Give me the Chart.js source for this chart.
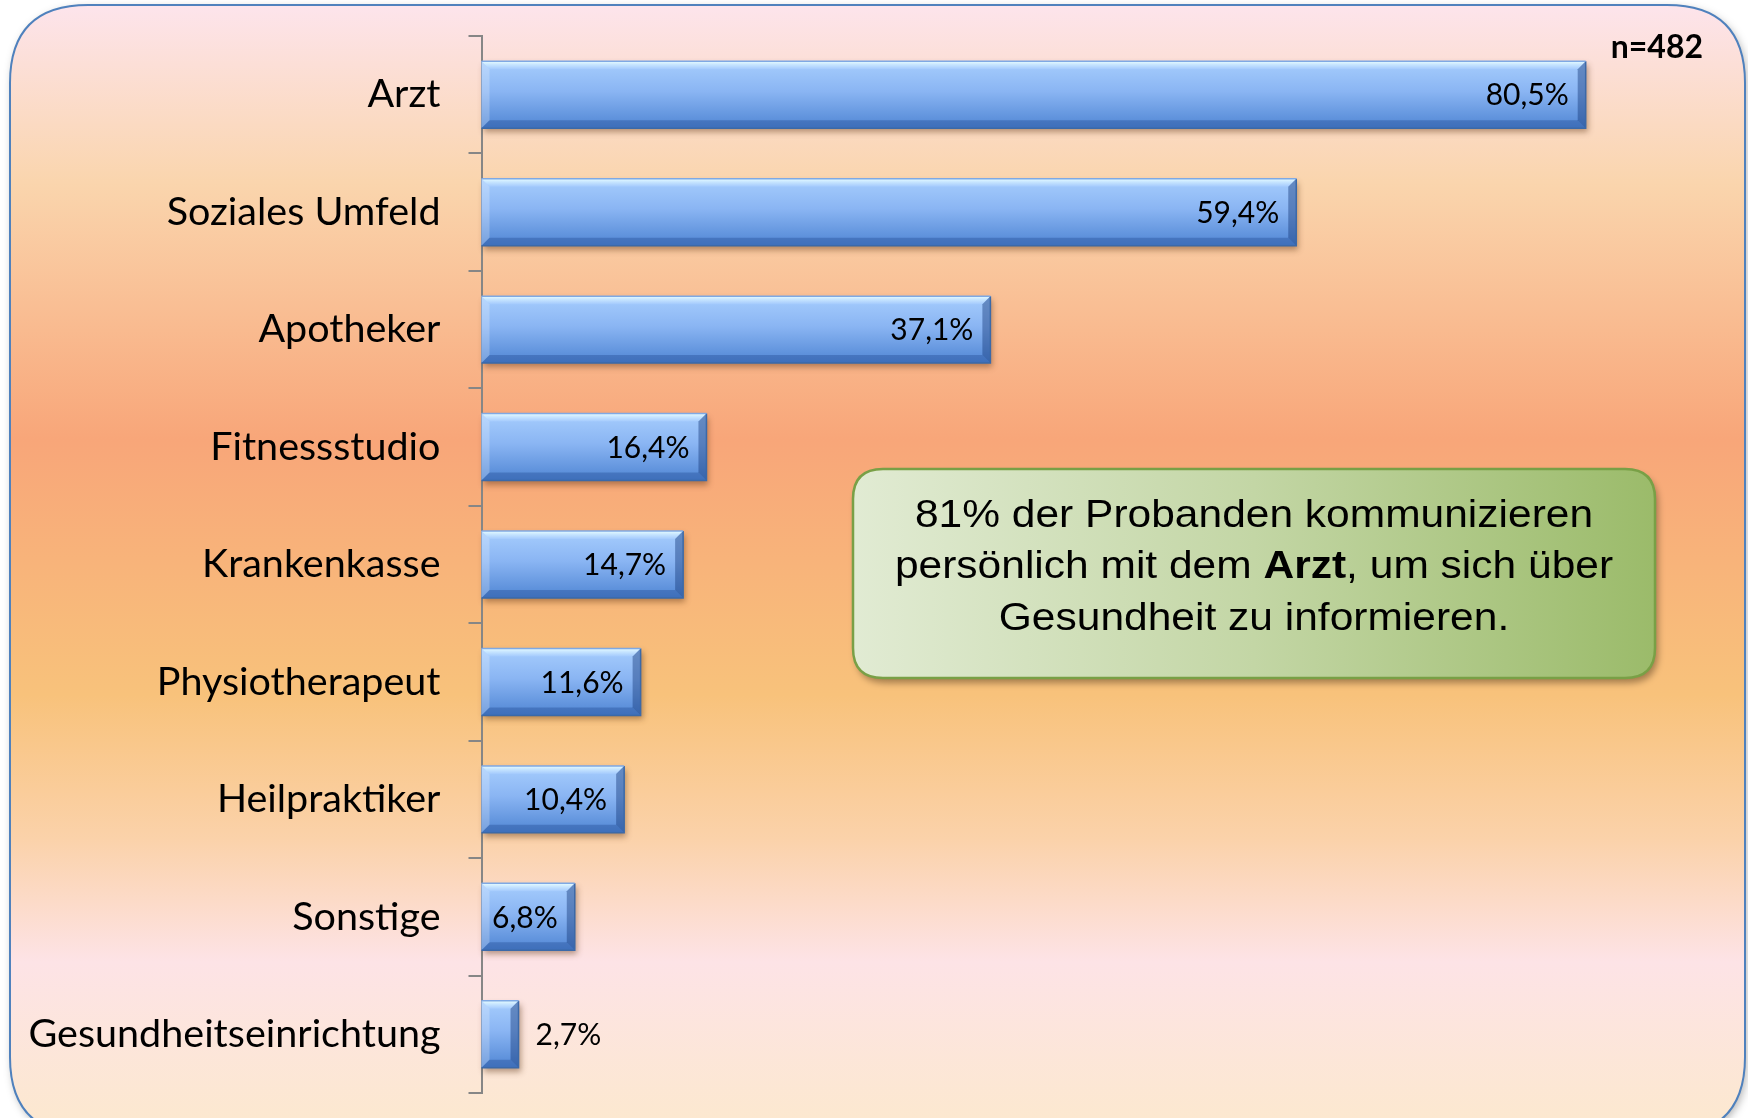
<!DOCTYPE html>
<html>
<head>
<meta charset="utf-8">
<script src="https://cdn.jsdelivr.net/npm/chart.js@4.4.0/dist/chart.umd.min.js"></script>
<style>
html,body{margin:0;padding:0;background:#fff;}
#wrap{width:1748px;height:1118px;position:relative;}
</style>
</head>
<body>
<div id="wrap"><canvas id="mycanvas"></canvas></div>
<script>
// data
var categories = ['Arzt','Soziales Umfeld','Apotheker','Fitnessstudio','Krankenkasse','Physiotherapeut','Heilpraktiker','Sonstige','Gesundheitseinrichtung'];
var values = [80.5,59.4,37.1,16.4,14.7,11.6,10.4,6.8,2.7];
var sampleNote = 'n=482';
var calloutLines = [
	[['81% der Probanden kommunizieren', false]],
	[['persönlich mit dem ', false], ['Arzt', true], [', um sich über', false]],
	[['Gesundheit zu informieren.', false]]
];

function roundRect(ctx, x, y, w, h, r){
	ctx.beginPath();
	ctx.moveTo(x+r, y);
	ctx.lineTo(x+w-r, y);
	ctx.quadraticCurveTo(x+w, y, x+w, y+r);
	ctx.lineTo(x+w, y+h-r);
	ctx.quadraticCurveTo(x+w, y+h, x+w-r, y+h);
	ctx.lineTo(x+r, y+h);
	ctx.quadraticCurveTo(x, y+h, x, y+h-r);
	ctx.lineTo(x, y+r);
	ctx.quadraticCurveTo(x, y, x+r, y);
	ctx.closePath();
}
function poly(ctx, pts, fill){
	ctx.beginPath();
	ctx.moveTo(pts[0][0], pts[0][1]);
	for(var i=1;i<pts.length;i++) ctx.lineTo(pts[i][0], pts[i][1]);
	ctx.closePath();
	ctx.fillStyle = fill;
	ctx.fill();
}
function barRect(el){
	var p = el.getProps(['x','y','base','height'], true);
	return {l:p.base, r:p.x, t:p.y-p.height/2, b:p.y+p.height/2, y:p.y};
}

var background = {
	id:'background',
	beforeDraw:function(chart){
		var ctx = chart.ctx;
		ctx.save();
		ctx.fillStyle = '#fff';
		ctx.fillRect(0,0,chart.width,chart.height);
		var g = ctx.createLinearGradient(0,5,0,1118);
		g.addColorStop(0,'#fde4ec');
		g.addColorStop(0.16,'#fad5ad');
		g.addColorStop(0.39,'#f8a679');
		g.addColorStop(0.62,'#f8c27b');
		g.addColorStop(0.75,'#fbd2aa');
		g.addColorStop(0.86,'#fde3e6');
		g.addColorStop(1,'#fce8d0');
		ctx.shadowColor = 'rgba(0,0,0,0.3)';
		ctx.shadowBlur = 8;
		ctx.shadowOffsetX = 2;
		ctx.shadowOffsetY = 3;
		roundRect(ctx,10,5,1735,1130,78);
		ctx.fillStyle = g;
		ctx.fill();
		ctx.shadowColor = 'transparent';
		ctx.lineWidth = 2;
		ctx.strokeStyle = '#4f81bd';
		ctx.stroke();
		ctx.restore();
	},
	beforeDatasetsDraw:function(chart){
		var ctx = chart.ctx;
		ctx.save();
		ctx.shadowColor = 'rgba(90,50,20,0.45)';
		ctx.shadowBlur = 6;
		ctx.shadowOffsetX = 2;
		ctx.shadowOffsetY = 4;
		ctx.fillStyle = '#6f9de0';
		chart.getDatasetMeta(0).data.forEach(function(el){
			var b = barRect(el);
			ctx.fillRect(b.l, b.t, b.r-b.l, b.b-b.t);
		});
		ctx.restore();
	},
	afterDatasetsDraw:function(chart){
		var ctx = chart.ctx;
		ctx.save();
		chart.getDatasetMeta(0).data.forEach(function(el, i){
			var b = barRect(el), d = 8;
			var tg = ctx.createLinearGradient(0,b.t,0,b.t+d);
			tg.addColorStop(0,'#e6fcff');
			tg.addColorStop(0.4,'#c8e6ff');
			tg.addColorStop(1,'#a4cafd');
			poly(ctx,[[b.l,b.t],[b.r,b.t],[b.r-d,b.t+d],[b.l+d,b.t+d]],tg);
			poly(ctx,[[b.l,b.t],[b.l+d,b.t+d],[b.l+d,b.b-d],[b.l,b.b]],'rgba(255,255,255,0.22)');
			poly(ctx,[[b.l,b.b],[b.l+d,b.b-d],[b.r-d,b.b-d],[b.r,b.b]],'rgba(30,70,140,0.35)');
			poly(ctx,[[b.r,b.t],[b.r,b.b],[b.r-d,b.b-d],[b.r-d,b.t+d]],'rgba(25,60,125,0.45)');
			ctx.lineWidth = 1.5;
			ctx.strokeStyle = '#3b69a8';
			ctx.beginPath();
			ctx.moveTo(b.l,b.b); ctx.lineTo(b.r,b.b); ctx.lineTo(b.r,b.t);
			ctx.stroke();
			ctx.strokeStyle = '#7fa9e4';
			ctx.beginPath();
			ctx.moveTo(b.l,b.t); ctx.lineTo(b.r,b.t);
			ctx.stroke();

			// value label
			var txt = values[i].toFixed(1).replace('.',',') + '%';
			ctx.font = '30px Lato';
			ctx.fillStyle = '#000';
			ctx.textBaseline = 'middle';
			if(values[i] > 5){
				ctx.textAlign = 'right';
				ctx.fillText(txt, b.r-17, b.y+1);
			}else{
				ctx.textAlign = 'left';
				ctx.fillText(txt, b.r+17, b.y+1);
			}
		});
		ctx.restore();
	},
	afterDraw:function(chart){
		var ctx = chart.ctx;
		ctx.save();
		// n label
		ctx.font = 'bold 32px Lato';
		ctx.fillStyle = '#000';
		ctx.textAlign = 'right';
		ctx.textBaseline = 'middle';
		ctx.fillText(sampleNote, 1703, 48);

		// callout box
		var bx = 853, by = 469, bw = 802, bh = 209;
		var g = ctx.createLinearGradient(bx,0,bx+bw,0);
		g.addColorStop(0,'#e1ebd3');
		g.addColorStop(0.5,'#c3d6a5');
		g.addColorStop(1,'#9bbb6a');
		ctx.shadowColor = 'rgba(60,40,20,0.45)';
		ctx.shadowBlur = 7;
		ctx.shadowOffsetX = 3;
		ctx.shadowOffsetY = 5;
		roundRect(ctx,bx,by,bw,bh,30);
		ctx.fillStyle = g;
		ctx.fill();
		ctx.shadowColor = 'transparent';
		ctx.lineWidth = 2.5;
		ctx.strokeStyle = '#79a046';
		ctx.stroke();

		var cx = bx + bw/2, lineY = [516,567,619], sx = 1.09;
		ctx.textAlign = 'left';
		ctx.fillStyle = '#000';
		calloutLines.forEach(function(line, li){
			var total = 0;
			line.forEach(function(s){
				ctx.font = (s[1] ? 'bold ' : '') + '39px "Liberation Sans", Arial';
				total += ctx.measureText(s[0]).width;
			});
			ctx.save();
			ctx.translate(cx, lineY[li]);
			ctx.scale(sx, 1);
			var x = -total/2;
			line.forEach(function(s){
				ctx.font = (s[1] ? 'bold ' : '') + '39px "Liberation Sans", Arial';
				ctx.fillText(s[0], x, 0);
				x += ctx.measureText(s[0]).width;
			});
			ctx.restore();
		});
		ctx.restore();
	}
};

var chartdata = {
	labels: categories,
	datasets: [{
		label: 'Kommunikation',
		data: values,
		barPercentage: 0.57,
		categoryPercentage: 1.0,
		borderWidth: 0,
		backgroundColor: function(c){
			var chart = c.chart;
			if(!chart.chartArea) return '#7aa8ec';
			var ys = chart.scales.y;
			var yc = ys.getPixelForValue(c.dataIndex);
			var h = ys.height / categories.length * 0.57;
			var g = chart.ctx.createLinearGradient(0, yc-h/2, 0, yc+h/2);
			g.addColorStop(0,'#a6cdfd');
			g.addColorStop(0.45,'#8ab5f3');
			g.addColorStop(1,'#5086d4');
			return g;
		}
	}]
};

var ctx = document.getElementById('mycanvas');
var barGraph = new Chart(ctx, {
	type: 'bar',
	data: chartdata,
	plugins: [background],
	options: {
		indexAxis: 'y',
		responsive: true,
		maintainAspectRatio: false,
		animation: false,
		layout: {padding: {top: 36, bottom: 25, left: 0, right: 32}},
		plugins: {legend: {display: false}, tooltip: {enabled: false}, title: {display: false}},
		scales: {
			x: {display: false, min: 0, max: 90},
			y: {
				afterFit: function(axis){
					axis.width = 481.5;
					axis.paddingTop = 0;
					axis.paddingBottom = 0;
				},
				grid: {drawOnChartArea: false, drawTicks: true, tickLength: 13, color: '#868686', lineWidth: 2},
				border: {display: true, color: '#868686', width: 2},
				ticks: {font: {family: 'Lato', size: 39.5}, color: '#000', padding: 28}
			}
		}
	}
});
</script>
</body>
</html>
